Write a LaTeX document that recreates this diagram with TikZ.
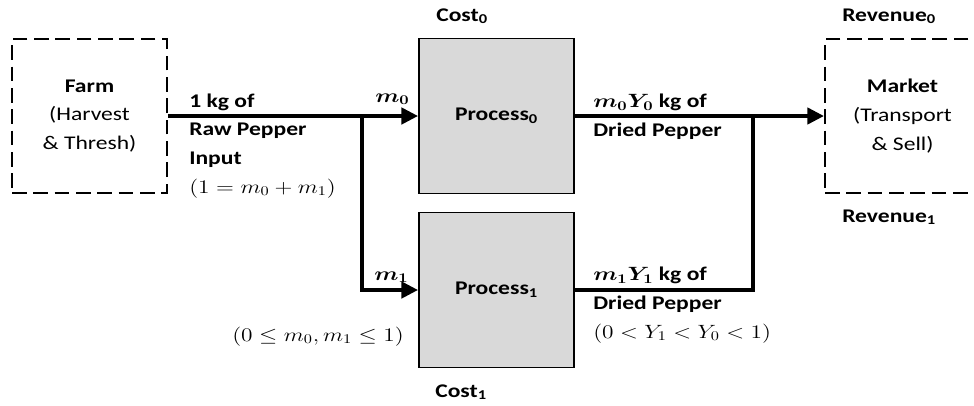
\documentclass[tikz,border=0pt]{standalone}
\usepackage{fontspec}
\setmainfont{Carlito}[FakeStretch=1.22]
\usepackage{amsmath,bm,graphicx}
\usetikzlibrary{arrows.meta,positioning}
\definecolor{procgray}{HTML}{D9D9D9}
\newcommand{\FlowTip}{Triangle[length=12.5pt,width=12pt]}
\newcommand{\Sb}[1]{\textsubscript{#1}}
\newcommand{\wm}[1]{\scalebox{1.22}[1]{$#1$}}
\tikzset{stage/.style={draw,line width=1.4pt,dash pattern=on 11pt off 5pt,minimum width=116.25pt,minimum height=115pt,align=center,inner sep=0pt}}
\tikzset{proc/.style={draw,line width=1.3pt,fill=procgray,minimum size=116.25pt,inner sep=0pt,font=\bfseries}}
\tikzset{flow/.style={line width=3.5pt}}
\tikzset{flowarr/.style={flow,-{\FlowTip}}}
\tikzset{lbl/.style={inner sep=0pt,align=left,font=\bfseries}}

\begin{document}
\fontsize{14.5}{21.5}\selectfont
\begin{tikzpicture}[x=0.75pt,y=-0.75pt]
\useasboundingbox (0,0) rectangle (974,405);
\clip (0,0) rectangle (974,405);
% stages and processes
\node[stage] (farm) at (89.5,116) {\textbf{Farm}\\(Harvest\\\& Thresh)};
\node[stage] (market) at (902.5,116) {\textbf{Market}\\(Transport\\\& Sell)};
\node[proc] (proc0) at (496.5,116) {Process\Sb{0}};
\node[proc] (proc1) at (496.5,290) {Process\Sb{1}};
\coordinate (split) at (362,116);
\coordinate (join) at (753,116);
% flows
\draw[flowarr] (farm.east) -- (proc0.west);
\draw[flowarr] (split) |- (proc1.west);
\draw[flowarr] (proc0.east) -- (market.west);
\draw[flow] (proc1.east) -| (join);
% labels (base = last line)
\node[lbl,anchor=base west] (cost0) at (436,21) {Cost\Sb{0}};
\node[lbl,anchor=base west] (cost1) at (435,397) {Cost\Sb{1}};
\node[lbl,anchor=base west] (rev0) at (842,21) {Revenue\Sb{0}};
\node[lbl,anchor=base west] (rev1) at (842,222) {Revenue\Sb{1}};
\node[lbl,anchor=base west] (m0) at (375,102) {\wm{\bm{m_0}}};
\node[lbl,anchor=base west] (m1) at (374,280) {\wm{\bm{m_1}}};
\node[lbl,anchor=base west] (input) at (189,193) {1 kg of\\Raw Pepper\\Input\\\wm{(1=m_0+m_1)}};
\node[lbl,anchor=base west] (bound) at (232,341) {\wm{(0\le m_0,m_1\le 1)}};
\node[lbl,anchor=base west] (out0) at (593,136) {\wm{\bm{m_0Y_0}} kg of\\Dried Pepper};
\node[lbl,anchor=base west] (out1) at (593,338) {\wm{\bm{m_1Y_1}} kg of\\Dried Pepper\\\wm{(0<Y_1<Y_0<1)}};
\end{tikzpicture}
\end{document}
